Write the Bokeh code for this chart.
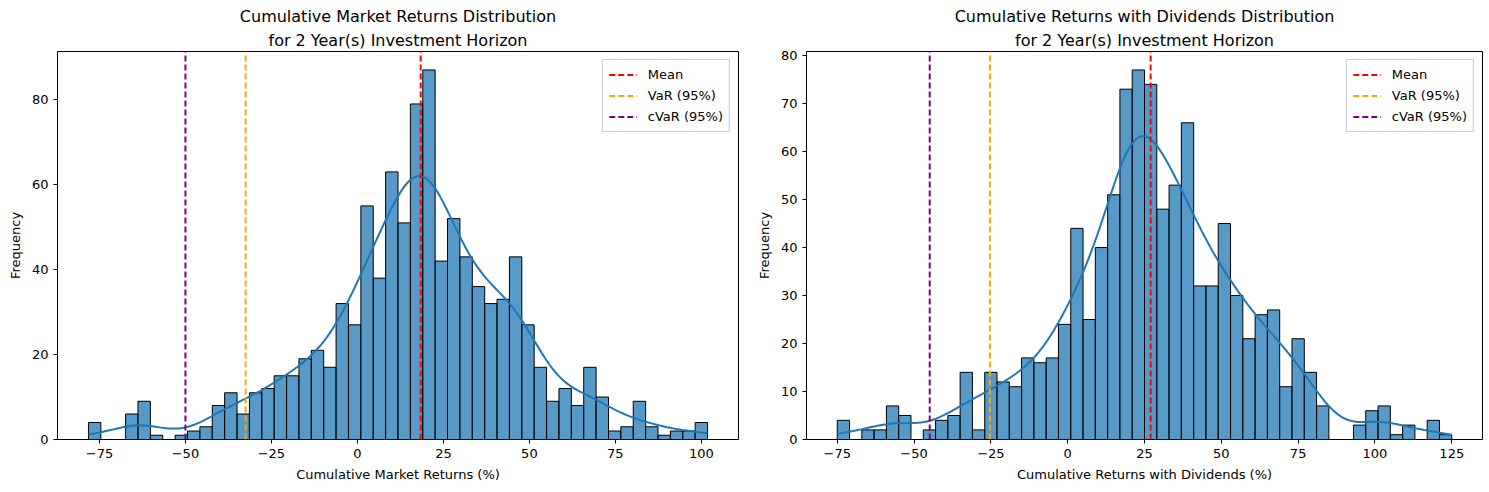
import numpy as np
from bokeh.plotting import figure
from bokeh.layouts import row
from bokeh.models import Range1d, FixedTicker, Title, CustomJSTickFormatter
from bokeh.embed import file_html
from bokeh.resources import INLINE

# ---- data ----
market_counts = [4, 0, 0, 6, 9, 1, 0, 1, 2, 3,
                 8, 11, 6, 11, 12, 15, 15, 19, 21, 17,
                 32, 27, 55, 38, 63, 51, 79, 87, 42, 52,
                 43, 36, 32, 33, 43, 27, 17, 9, 12, 8,
                 17, 10, 2, 3, 9, 3, 1, 2, 2, 4]
market_range = [-78.2, 101.8]
market_mean = 18.4
market_var = -32.5
market_cvar = -50.0
market_xticks = [-75, -50, -25, 0, 25, 50, 75, 100]
market_yticks = [0, 20, 40, 60, 80]

div_counts = [4, 0, 2, 2, 7, 5, 0, 2, 4, 5,
              14, 2, 14, 12, 11, 17, 16, 17, 24, 44,
              25, 40, 51, 73, 77, 74, 48, 53, 66, 32,
              32, 45, 30, 21, 26, 27, 11, 21, 14, 7,
              0, 0, 3, 6, 7, 1, 3, 0, 4, 1]
div_range = [-75.0, 125.0]
div_mean = 27.0
div_var = -25.3
div_cvar = -44.9
div_xticks = [-75, -50, -25, 0, 25, 50, 75, 100, 125]
div_yticks = [0, 10, 20, 30, 40, 50, 60, 70, 80]

FONT = "DejaVu Sans"
BAR = "#1f77b4"


def kde_curve(counts, lo, hi):
    c = np.asarray(counts, float)
    edges = np.linspace(lo, hi, len(c) + 1)
    centers = (edges[:-1] + edges[1:]) / 2
    n = c.sum()
    mu = (c * centers).sum() / n
    sd = np.sqrt((c * (centers - mu) ** 2).sum() / (n - 1))
    bw = sd * n ** (-1 / 5)
    xs = np.linspace(lo, hi, 200)
    dens = (c[None, :] * np.exp(-0.5 * ((xs[:, None] - centers[None, :]) / bw) ** 2)).sum(1)
    dens /= n * bw * np.sqrt(2 * np.pi)
    return xs, dens * n * (edges[1] - edges[0])


MINUS_FMT = "return tick < 0 ? '\\u2212' + Math.abs(tick) : String(tick);"


def make_plot(counts, rng, mean, var, cvar, xticks, yticks, title_lines, xlabel,
              fig_w, left_border, right_border):
    lo, hi = rng
    edges = np.linspace(lo, hi, len(counts) + 1)
    pad = 0.05 * (hi - lo)
    ymax = max(counts) * 1.05
    p = figure(output_backend="svg", toolbar_location=None, title=None,
               width=fig_w, height=484,
               min_border_left=left_border, min_border_right=right_border,
               min_border_top=51, min_border_bottom=45,
               x_range=Range1d(lo - pad, hi + pad), y_range=Range1d(0, ymax))
    standoffs = [4, 1]
    for line, so in zip(reversed(title_lines), standoffs):
        p.add_layout(Title(text=line, align="center", text_font=FONT,
                           text_font_size="16px", text_font_style="normal",
                           text_color="black", standoff=so), "above")
    p.grid.visible = False
    p.outline_line_color = "black"
    p.outline_line_alpha = 1
    p.outline_line_width = 1
    p.background_fill_color = "white"
    p.border_fill_color = "white"

    p.quad(left=edges[:-1], right=edges[1:], bottom=0, top=counts,
           fill_color=BAR, fill_alpha=0.75, line_color="black", line_width=1)
    xs, ys = kde_curve(counts, lo, hi)
    p.line(xs, ys, line_color=BAR, line_width=2)

    for val, col, lab in [(mean, "red", "Mean"), (var, "orange", "VaR (95%)"),
                          (cvar, "purple", "cVaR (95%)")]:
        p.line([val, val], [0, ymax], line_color=col, line_width=2,
               line_dash="6 3", legend_label=lab)

    for ax in (p.xaxis, p.yaxis):
        ax.axis_label_text_font = FONT
        ax.axis_label_text_font_size = "13px"
        ax.axis_label_text_font_style = "normal"
        ax.axis_label_text_color = "black"
        ax.major_label_text_font = FONT
        ax.major_label_text_font_size = "13px"
        ax.major_label_text_color = "black"
        ax.minor_tick_line_color = None
        ax.major_tick_in = 0
        ax.major_tick_out = 4
        ax.axis_line_color = None
        ax.major_tick_line_color = "black"
        ax.axis_label_standoff = 6
    p.xaxis.axis_label = xlabel
    p.yaxis.axis_label = "Frequency"
    p.xaxis.ticker = FixedTicker(ticks=xticks)
    p.yaxis.ticker = FixedTicker(ticks=yticks)
    p.xaxis.formatter = CustomJSTickFormatter(code=MINUS_FMT)

    lg = p.legend[0]
    lg.location = "top_right"
    lg.label_text_font = FONT
    lg.label_text_font_size = "13px"
    lg.label_text_color = "black"
    lg.border_line_color = "#cccccc"
    lg.border_line_alpha = 1
    lg.background_fill_alpha = 0.8
    lg.glyph_width = 28
    lg.glyph_height = 17
    lg.spacing = 4
    lg.padding = 6
    lg.margin = 8
    lg.label_standoff = 11
    return p


p1 = make_plot(market_counts, market_range, market_mean, market_var, market_cvar,
               market_xticks, market_yticks,
               ["Cumulative Market Returns Distribution", "for 2 Year(s) Investment Horizon"],
               "Cumulative Market Returns (%)", 753, 57, 15)
p2 = make_plot(div_counts, div_range, div_mean, div_var, div_cvar,
               div_xticks, div_yticks,
               ["Cumulative Returns with Dividends Distribution", "for 2 Year(s) Investment Horizon"],
               "Cumulative Returns with Dividends (%)", 736, 49, 7)

layout = row(p1, p2, spacing=0)
open("out.html", "w").write(file_html(layout, INLINE))
